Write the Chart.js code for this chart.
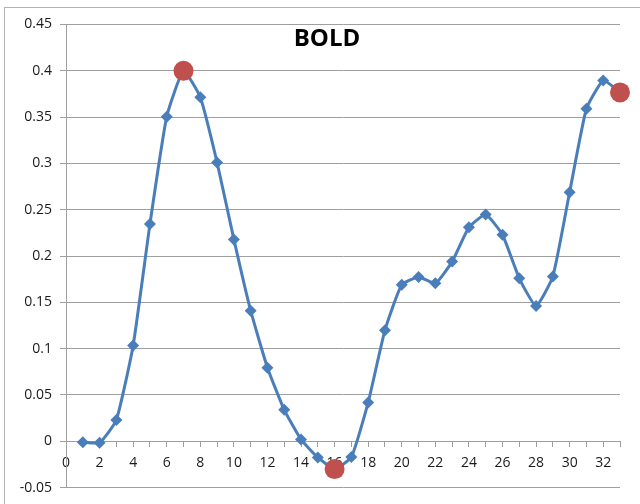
<!DOCTYPE html>
<html>
<head>
<meta charset="utf-8">
<script src="https://cdn.jsdelivr.net/npm/chart.js@4.4.0/dist/chart.umd.min.js"></script>
<style>
    body { margin: 0; background: #fff; }
    #wrap { width: 640px; height: 504px; }
</style>
</head>
<body>
<div id="wrap"><canvas id="boldChart" width="640" height="504"></canvas></div>
<script>
// ========================================
// BOLD response curve
// ========================================

const xValues = [1, 2, 3, 4, 5, 6, 7, 8, 9, 10, 11, 12, 13, 14, 15, 16, 17,
                 18, 19, 20, 21, 22, 23, 24, 25, 26, 27, 28, 29, 30, 31, 32, 33];
const boldValues = [-0.001, -0.0015, 0.023, 0.1035, 0.2345, 0.3505, 0.4, 0.3715, 0.301,
                    0.218, 0.141, 0.0795, 0.034, 0.002, -0.0175, -0.03, -0.017,
                    0.042, 0.12, 0.169, 0.1775, 0.1705, 0.194, 0.231, 0.2448, 0.223,
                    0.176, 0.146, 0.178, 0.269, 0.359, 0.3895, 0.3767];

// highlighted points (red circles)
const peakX = [7, 16, 33];
const peakValues = [0.4, -0.03, 0.3767];

const yTicks = [-0.05, 0, 0.05, 0.1, 0.15, 0.2, 0.25, 0.3, 0.35, 0.4, 0.45];
const xLabelStep = 2;
const chartTitle = 'BOLD';

const LINE_BLUE = '#4a7ebb';
const RED = '#c0504d';
const GRID = '#9f9f9f';
const TEXT = '#1a1a1a';

// Frame + title drawn on the canvas
const framePlugin = {
    id: 'frame',
    beforeDraw(chart) {
        const ctx = chart.ctx;
        ctx.save();
        ctx.fillStyle = '#fff';
        ctx.fillRect(0, 0, chart.width, chart.height);
        ctx.strokeStyle = '#b4b4b4';
        ctx.lineWidth = 1;
        ctx.strokeRect(4.5, 7.5, chart.width + 20, chart.height + 20);
        ctx.restore();
    },
    afterDatasetsDraw(chart) {
        const ctx = chart.ctx;
        ctx.save();
        ctx.font = 'bold 24px "Open Sans", sans-serif';
        ctx.fillStyle = '#000';
        ctx.textAlign = 'center';
        ctx.textBaseline = 'middle';
        ctx.fillText(chartTitle, chart.chartArea.left + 261, 39);
        ctx.restore();
    }
};

const lineData = xValues.map((x, i) => ({ x: x, y: boldValues[i] }));
const peakData = peakX.map((x, i) => ({ x: x, y: peakValues[i] }));

new Chart(document.getElementById('boldChart'), {
    type: 'line',
    data: {
        datasets: [
            {
                label: 'peaks',
                data: peakData,
                showLine: false,
                pointStyle: 'circle',
                pointRadius: 10,
                pointBackgroundColor: RED,
                pointBorderColor: RED,
                pointBorderWidth: 0,
                clip: false
            },
            {
                label: chartTitle,
                data: lineData,
                borderColor: LINE_BLUE,
                borderWidth: 3,
                tension: 0.15,
                pointStyle: 'rectRot',
                pointRadius: 6,
                pointBackgroundColor: LINE_BLUE,
                pointBorderColor: LINE_BLUE,
                pointBorderWidth: 0,
                clip: false
            }
        ]
    },
    options: {
        responsive: false,
        animation: false,
        layout: {
            padding: { left: 0, right: 20, top: 24.5, bottom: 14.5 }
        },
        plugins: {
            legend: { display: false },
            tooltip: { enabled: false }
        },
        scales: {
            x: {
                type: 'linear',
                position: { y: 0 },
                min: 0,
                max: 33,
                border: { display: true, color: GRID, width: 1 },
                grid: {
                    drawOnChartArea: false,
                    drawTicks: true,
                    tickLength: 5,
                    color: GRID
                },
                ticks: {
                    stepSize: 1,
                    autoSkip: false,
                    maxRotation: 0,
                    padding: 8,
                    color: TEXT,
                    font: { family: '"Open Sans", sans-serif', size: 14 },
                    callback: (v) => (v % xLabelStep === 0 ? String(v) : '')
                }
            },
            y: {
                min: yTicks[0],
                max: yTicks[yTicks.length - 1],
                afterFit(scale) { scale.width = 66; },
                afterBuildTicks(scale) {
                    scale.ticks = yTicks.map(v => ({ value: v }));
                },
                border: { display: true, color: GRID, width: 1 },
                grid: {
                    color: GRID,
                    lineWidth: 1,
                    tickLength: 6
                },
                ticks: {
                    padding: 8,
                    color: TEXT,
                    font: { family: '"Open Sans", sans-serif', size: 14 },
                    callback: (v) => String(Number(v.toFixed(2)))
                }
            }
        }
    },
    plugins: [framePlugin]
});
</script>
</body>
</html>
